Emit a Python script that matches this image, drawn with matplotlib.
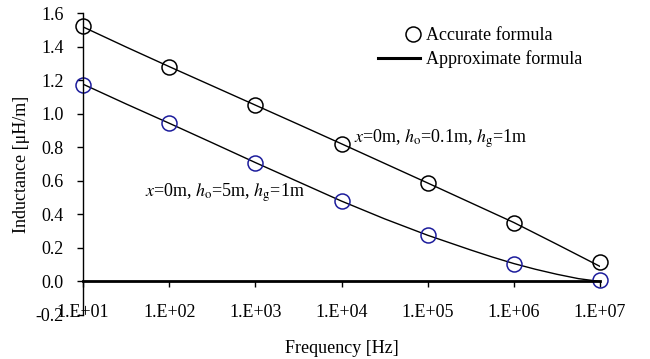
import matplotlib
matplotlib.use("Agg")
import matplotlib.pyplot as plt
from matplotlib.lines import Line2D

plt.rcParams['font.family'] = ['Liberation Serif', 'DejaVu Serif']
plt.rcParams['mathtext.fontset'] = 'stix'

# accurate formula (circles), read at each decade
freq = [1e1, 1e2, 1e3, 1e4, 1e5, 1e6, 1e7]
acc_ho01 = [1.523, 1.282, 1.054, 0.823, 0.59, 0.352, 0.114]
acc_ho5 = [1.172, 0.944, 0.71, 0.482, 0.277, 0.106, 0.01]

# approximate formula, h_o = 0.1 m (nearly straight), read at half decades
approx_f01 = [1e1, 10**1.5, 1e2, 10**2.5, 1e3, 10**3.5, 1e4, 10**4.5,
              1e5, 10**5.5, 1e6, 10**6.5, 1e7]
approx_ho01 = [1.52, 1.40, 1.283, 1.168, 1.053, 0.938, 0.822, 0.705,
               0.588, 0.47, 0.352, 0.222, 0.09]

# approximate formula, h_o = 5 m (bends at high frequency)
approx_f5 = [1e1, 10**1.5, 1e2, 10**2.5, 1e3, 10**3.5, 1e4, 10**4.5,
             1e5, 10**5.25, 10**5.5, 10**5.75, 1e6, 10**6.25, 10**6.5, 10**6.75, 1e7]
approx_ho5 = [1.178, 1.06, 0.945, 0.828, 0.71, 0.595, 0.48, 0.374,
              0.276, 0.232, 0.188, 0.146, 0.107, 0.073, 0.043, 0.017, 0.0]

xtick_labels = ['1.E+01', '1.E+02', '1.E+03', '1.E+04', '1.E+05', '1.E+06', '1.E+07']
yticks = [-0.2, 0.0, 0.2, 0.4, 0.6, 0.8, 1.0, 1.2, 1.4, 1.6]

blue = '#1c1c9c'
fs = 13

fig = plt.figure(figsize=(6.5, 3.59), dpi=100)
ax = fig.add_axes([0.1277, 0.1226, 0.7954, 0.8398])

ax.plot(approx_f01, approx_ho01, color='black', lw=1.0)
ax.plot(approx_f5, approx_ho5, color='black', lw=1.0)
ax.plot(freq, acc_ho01, 'o', mfc='none', mec='black', ms=10.8, mew=1.1, clip_on=False)
ax.plot(freq, acc_ho5, 'o', mfc='none', mec=blue, ms=10.8, mew=1.1, clip_on=False)

ax.set_xscale('log')
ax.set_xlim(1e1, 1e7)
ax.set_ylim(-0.2, 1.6)
ax.set_xticks(freq)
ax.set_xticklabels(xtick_labels)
ax.minorticks_off()
ax.set_yticks(yticks)
ax.set_yticklabels([f'{v:.1f}' for v in yticks])

ax.spines['top'].set_visible(False)
ax.spines['right'].set_visible(False)
ax.spines['bottom'].set_position(('data', 0))
ax.spines['bottom'].set_linewidth(2.0)
ax.spines['left'].set_linewidth(1.0)
ax.tick_params(axis='x', direction='out', length=4, width=1, pad=12, labelsize=fs)
ax.tick_params(axis='y', direction='out', length=4, width=1, pad=10, labelsize=fs)

ax.set_xlabel('Frequency [Hz]', fontsize=fs, va='center')
ax.xaxis.set_label_coords(0.5, -0.11)
ax.set_ylabel('Inductance [μH/m]', fontsize=fs, va='center')
ax.yaxis.set_label_coords(-0.118, 0.5)

ax.text(1.4e4, 0.85, r'$x$=0m, $h_{\rm o}$=0.1m, $h_{\rm g}$=1m', fontsize=fs, va='center', ha='left')
ax.text(52, 0.53, r'$x$=0m, $h_{\rm o}$=5m, $h_{\rm g}$=1m', fontsize=fs, va='center', ha='left')

# legend: marker row and line row drawn as two legends so the text lines up
h_acc = Line2D([], [], marker='o', ls='none', mfc='none', mec='black', ms=10.8, mew=1.1)
h_apx = Line2D([], [], color='black', lw=2.2)
fig.legend([h_acc], ['Accurate formula'], loc='center left',
           bbox_to_anchor=(404 / 650, 1 - 36 / 359), frameon=False, fontsize=fs,
           handlelength=1.0, handletextpad=0.22, borderaxespad=0, borderpad=0)
fig.legend([h_apx], ['Approximate formula'], loc='center left',
           bbox_to_anchor=(378 / 650, 1 - 59 / 359), frameon=False, fontsize=fs,
           handlelength=2.33, handletextpad=0.33, borderaxespad=0, borderpad=0)

fig.savefig('out.png', dpi=100)
